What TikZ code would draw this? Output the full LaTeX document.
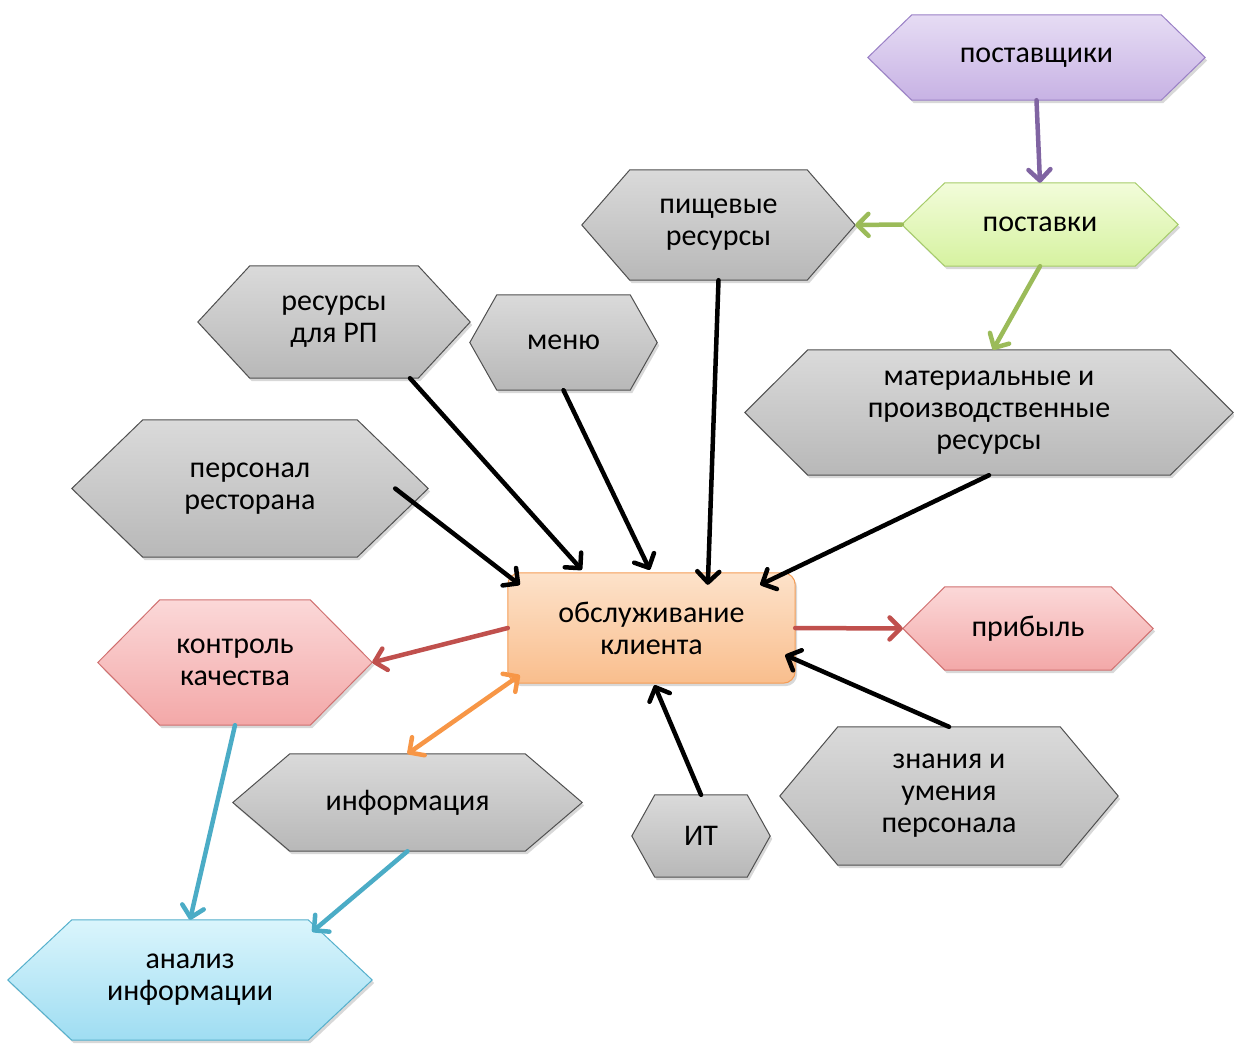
\documentclass[tikz,border=0pt]{standalone}
\usepackage{fontspec}
\setmainfont{Carlito}
\usetikzlibrary{arrows.meta,calc,backgrounds,shadows}
\definecolor{grT}{HTML}{DADADA}\definecolor{grB}{HTML}{B8B8B8}\definecolor{grD}{HTML}{505050}
\definecolor{puT}{HTML}{E6DCF4}\definecolor{puB}{HTML}{C7B2E4}\definecolor{puD}{HTML}{9A80C6}
\definecolor{gnT}{HTML}{F2FCDA}\definecolor{gnB}{HTML}{D6F2A0}\definecolor{gnD}{HTML}{A6CC6A}
\definecolor{orT}{HTML}{FDE2CA}\definecolor{orB}{HTML}{F9BE8D}\definecolor{orD}{HTML}{F59D56}
\definecolor{pkT}{HTML}{FBD8D8}\definecolor{pkB}{HTML}{F3A8A8}\definecolor{pkD}{HTML}{D07070}
\definecolor{blT}{HTML}{DAF5FC}\definecolor{blB}{HTML}{9FDDF2}\definecolor{blD}{HTML}{55B0CC}
\definecolor{arPu}{HTML}{8064A2}\definecolor{arGn}{HTML}{9BBB59}\definecolor{arRd}{HTML}{C0504D}
\definecolor{arOr}{HTML}{F79646}\definecolor{arBl}{HTML}{4BACC6}
\tikzset{
  lbl/.style={inner sep=0pt, align=center, font=\fontsize{30}{32}\selectfont, text=black},
  shd/.style={drop shadow={shadow xshift=2pt, shadow yshift=-3pt, opacity=0.25, fill=black!60}},
  grayhex/.style={shd, draw=grD, line width=1pt, top color=grT, bottom color=grB},
  purphex/.style={shd, draw=puD, line width=1pt, top color=puT, bottom color=puB},
  greenhex/.style={shd, draw=gnD, line width=1pt, top color=gnT, bottom color=gnB},
  pinkhex/.style={shd, draw=pkD, line width=1pt, top color=pkT, bottom color=pkB},
  bluehex/.style={shd, draw=blD, line width=1pt, top color=blT, bottom color=blB},
  orbox/.style={shd, draw=orD, line width=1pt, top color=orT, bottom color=orB, rounded corners=12pt},
  tip/.tip={Straight Barb[length=11pt,width=22pt,round]},
  ar/.style={line width=4.5pt, line cap=round, -tip},
  biar/.style={line width=4.5pt, line cap=round, tip-tip},
}
\newcommand\hexshape[3]{\path[#3] (#1.west) -- ([xshift=#2pt]#1.north west) -- ([xshift=-#2pt]#1.north east) -- (#1.east) -- ([xshift=-#2pt]#1.south east) -- ([xshift=#2pt]#1.south west) -- cycle;}
\begin{document}
\begin{tikzpicture}[x=1pt,y=-1pt]
\useasboundingbox (0,0) rectangle (1234,1045);
\node[lbl, minimum width=337pt, minimum height=85pt] (sup) at (1036.5,57.5) {поставщики};
\node[lbl, minimum width=276pt, minimum height=83pt] (post) at (1040,224.5) {поставки};
\node[lbl, minimum width=273pt, minimum height=110pt] (food) at (718.5,225) {пищевые\\ресурсы};
\node[lbl, minimum width=272pt, minimum height=112pt] (rp) at (334,322) {ресурсы\\для РП};
\node[lbl, minimum width=187pt, minimum height=95pt] (menu) at (563.5,342.5) {меню};
\node[lbl, minimum width=488pt, minimum height=125pt] (mat) at (989,412.5) {материальные и\\производственные\\ресурсы};
\node[lbl, minimum width=356pt, minimum height=137pt] (pers) at (250,488.5) {персонал\\ресторана};
\node[lbl, minimum width=287pt, minimum height=110pt] (serv) at (651.5,628) {обслуживание\\клиента};
\node[lbl, minimum width=250pt, minimum height=83pt] (prof) at (1028,628.5) {прибыль};
\node[lbl, minimum width=274pt, minimum height=125pt] (qc) at (235,662.5) {контроль\\качества};
\node[lbl, minimum width=349pt, minimum height=97pt] (info) at (407.5,802.5) {информация};
\node[lbl, minimum width=138pt, minimum height=82pt] (it) at (701,836) {ИТ};
\node[lbl, minimum width=338pt, minimum height=138pt] (know) at (949,796) {знания и\\умения\\персонала};
\node[lbl, minimum width=364pt, minimum height=120pt] (anal) at (190,980) {анализ\\информации};
\begin{pgfonlayer}{background}
\fill[white] (0,0) rectangle (1234,1045);
\hexshape{sup}{44}{purphex}
\hexshape{post}{43}{greenhex}
\hexshape{food}{48}{grayhex}
\hexshape{rp}{52}{grayhex}
\hexshape{menu}{27}{grayhex}
\hexshape{mat}{63}{grayhex}
\hexshape{pers}{71}{grayhex}
\hexshape{prof}{42}{pinkhex}
\hexshape{qc}{62}{pinkhex}
\hexshape{info}{57}{grayhex}
\hexshape{it}{23}{grayhex}
\hexshape{know}{58}{grayhex}
\hexshape{anal}{64}{bluehex}
\path[orbox] (serv.north west) rectangle (serv.south east);
\end{pgfonlayer}
% connectors
\draw[ar, arPu] (sup.south) -- (post.north);
\draw[ar, arGn] (post.west) -- (food.east);
\draw[ar, arGn] (post.south) -- ($(mat.north)+(4,0)$);
\draw[ar, black] (food.south) -- ($(serv.north west)+(200,12)$);
\draw[ar, black] ($(rp.south)+(76,0)$) -- ($(serv.north west)+(74,-3)$);
\draw[ar, black] (menu.south) -- ($(serv.north west)+(142,-3)$);
\draw[ar, black] ($(pers.east)+(-33,0)$) -- ($(serv.north west)+(12,12)$);
\draw[ar, black] (mat.south) -- ($(serv.north east)+(-35,12)$);
\draw[ar, black] (know.north) -- ($(serv.east)+(-10,27)$);
\draw[ar, black] (it.north) -- ($(serv.south)+(3,2)$);
\draw[ar, arRd] (serv.west) -- (qc.east);
\draw[ar, arRd] (serv.east) -- (prof.west);
\draw[biar, arOr] ($(serv.south west)+(12,-8)$) -- (info.north);
\draw[ar, arBl] (qc.south) -- (anal.north);
\draw[ar, arBl] (info.south) -- ($(anal.north east)+(-60,12)$);
\end{tikzpicture}
\end{document}
